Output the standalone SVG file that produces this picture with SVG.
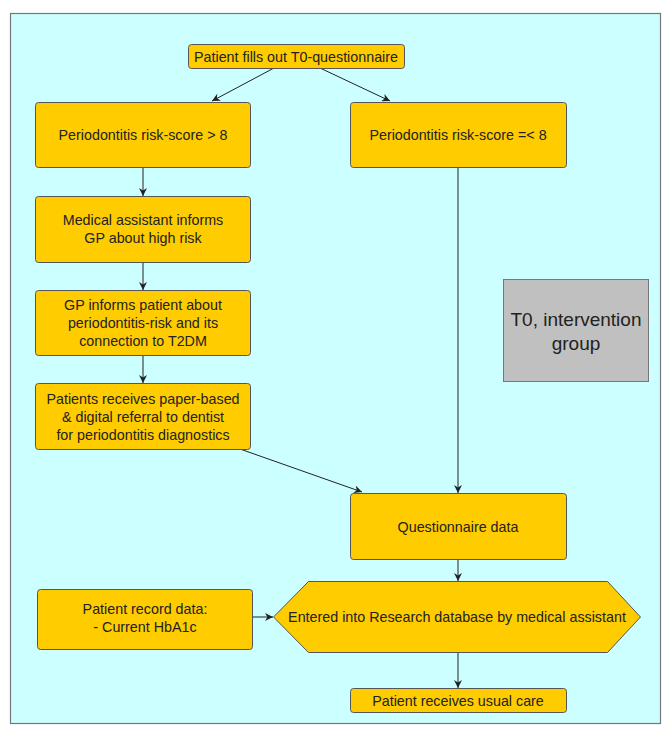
<svg xmlns="http://www.w3.org/2000/svg" width="669" height="747" viewBox="0 0 669 747">
<defs>
<marker id="ah" viewBox="0 0 10 10" refX="10" refY="5" markerWidth="8" markerHeight="8" markerUnits="userSpaceOnUse" orient="auto">
<path d="M0,0 L10,5 L0,10 L3,5 Z" fill="#222"/>
</marker>
</defs>
<style>
.box{fill:#FFCC00;stroke:#555;stroke-width:1}
.t{font-family:"Liberation Sans",Arial,sans-serif;font-size:14.3px;fill:#222;text-anchor:middle}
.big{font-family:"Liberation Sans",Arial,sans-serif;font-size:19px;fill:#222;text-anchor:middle}
.c{stroke:#222;stroke-width:1;fill:none;marker-end:url(#ah)}
</style>
<rect width="669" height="747" fill="#fff"/>
<rect x="10.5" y="13.5" width="650" height="710" fill="#CCFFFF" stroke="#777" stroke-width="1.2"/>

<g id="connectors">
<line class="c" x1="274" y1="68" x2="212" y2="101"/>
<line class="c" x1="320" y1="68" x2="390" y2="101"/>
<line class="c" x1="143" y1="167" x2="143" y2="196"/>
<line class="c" x1="143" y1="262" x2="143" y2="290"/>
<line class="c" x1="143" y1="355" x2="143" y2="383"/>
<line class="c" x1="458" y1="167" x2="458" y2="493"/>
<line class="c" x1="240" y1="449" x2="362" y2="492"/>
<line class="c" x1="458" y1="559" x2="458" y2="581"/>
<line class="c" x1="252" y1="617" x2="273" y2="617"/>
<line class="c" x1="458" y1="652" x2="458" y2="688"/>
</g>

<g id="n-start">
<rect class="box" x="188.5" y="44.5" width="216" height="24" rx="3"/>
<text class="t" x="296" y="61.5">Patient fills out T0-questionnaire</text>
</g>
<g id="n-high">
<rect class="box" x="35.5" y="102.5" width="215" height="65" rx="3"/>
<text class="t" x="143" y="140">Periodontitis risk-score &gt; 8</text>
</g>
<g id="n-low">
<rect class="box" x="350.5" y="102.5" width="216" height="65" rx="3"/>
<text class="t" x="458" y="140">Periodontitis risk-score =&lt; 8</text>
</g>
<g id="n-assistant">
<rect class="box" x="35.5" y="196.5" width="215" height="66" rx="3"/>
<text class="t" x="143" y="225">Medical assistant informs</text>
<text class="t" x="143" y="243">GP about high risk</text>
</g>
<g id="n-gp">
<rect class="box" x="35.5" y="290.5" width="215" height="65" rx="3"/>
<text class="t" x="143" y="310">GP informs patient about</text>
<text class="t" x="143" y="328">periodontitis-risk and its</text>
<text class="t" x="143" y="346">connection to T2DM</text>
</g>
<g id="n-referral">
<rect class="box" x="35.5" y="383.5" width="215" height="66" rx="3"/>
<text class="t" x="143" y="404">Patients receives paper-based</text>
<text class="t" x="143" y="422">&amp; digital referral to dentist</text>
<text class="t" x="143" y="440">for periodontitis diagnostics</text>
</g>
<g id="n-label">
<rect x="503.5" y="279.5" width="145" height="102" fill="#C0C0C0" stroke="#777" stroke-width="1"/>
<text class="big" x="576" y="326">T0, intervention</text>
<text class="big" x="576" y="350">group</text>
</g>
<g id="n-questionnaire">
<rect class="box" x="350.5" y="493.5" width="216" height="66" rx="3"/>
<text class="t" x="458" y="532">Questionnaire data</text>
</g>
<g id="n-record">
<rect class="box" x="37.5" y="589.5" width="215" height="60" rx="3"/>
<text class="t" x="145" y="614">Patient record data:</text>
<text class="t" x="145" y="632">- Current HbA1c</text>
</g>
<g id="n-database">
<polygon class="box" points="273.5,617 308.5,581.5 607.5,581.5 640.5,617 607.5,652.5 308.5,652.5"/>
<text class="t" x="457" y="622">Entered into Research database by medical assistant</text>
</g>
<g id="n-usual">
<rect class="box" x="350.5" y="688.5" width="216" height="24" rx="3"/>
<text class="t" x="458" y="705.5">Patient receives usual care</text>
</g>
</svg>
